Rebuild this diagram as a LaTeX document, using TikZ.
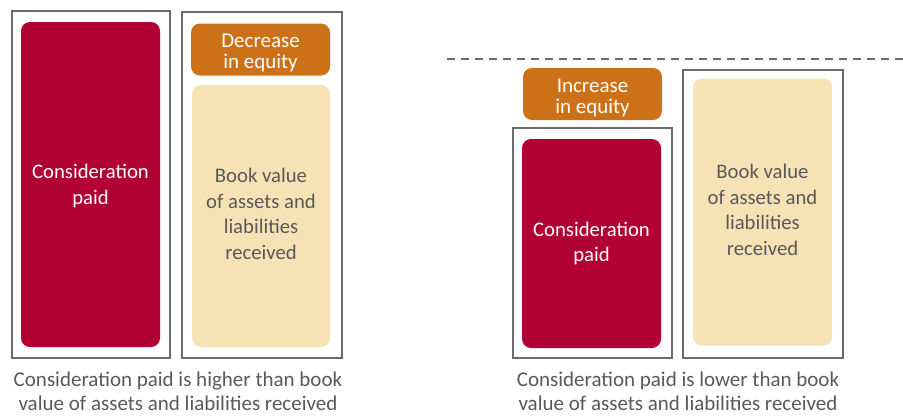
\documentclass[tikz,border=0pt]{standalone}
\usepackage{fontspec}
\setmainfont{Carlito}
\definecolor{cred}{HTML}{B10034}
\definecolor{corange}{HTML}{CD7118}
\definecolor{cyellow}{HTML}{F7E2B6}
\definecolor{ctext}{HTML}{595959}
\definecolor{cframe}{HTML}{6B6B6B}
\newcommand{\upstrut}{\rule[-4pt]{0pt}{1pt}}
\newcommand{\downstrut}{\rule{0pt}{21pt}}
\begin{document}
\begin{tikzpicture}[x=1pt,y=-1pt,
  frame/.style={draw=cframe,line width=1.8pt,inner sep=0pt,rectangle},
  blk/.style={rectangle,rounded corners=9pt,inner sep=0pt,align=center,font=\fontsize{20.7}{25.5}\selectfont},
  redblk/.style={blk,fill=cred,text=white},
  yelblk/.style={blk,fill=cyellow,text=ctext},
  orblk/.style={blk,fill=corange,text=white,font=\fontsize{21}{21}\selectfont},
  caption/.style={align=center,text=ctext,font=\fontsize{21}{23.5}\selectfont}]
\useasboundingbox (0,0) rectangle (903,416);
% left panel
\node[frame,minimum width=158pt,minimum height=347pt] (f1) at (91,184.5) {};
\node[redblk,minimum width=139pt,minimum height=325pt] (r1) at (90.5,184.5) {\rule{0pt}{17pt}Consideration\\paid};
\node[frame,minimum width=160pt,minimum height=346pt] (f2) at (262,185) {};
\node[orblk,minimum width=139pt,minimum height=52pt] (o1) at (260.5,49.5) {\downstrut Decrease\\in equity};
\node[yelblk,minimum width=138pt,minimum height=262pt] (y1) at (261,216) {Book value\\of assets and\\liabilities\\received\upstrut};
\node[caption] (c1) at (178,391.5) {Consideration paid is higher than book\\value of assets and liabilities received};
% right panel
\coordinate (d1) at (447,59);
\coordinate (d2) at (903,59);
\draw[cframe,line width=1.3pt,dash pattern=on 8pt off 6pt] (d1) -- (d2);
\node[orblk,minimum width=139pt,minimum height=52pt] (o2) at (592.5,94) {\downstrut Increase\\in equity};
\node[frame,minimum width=159pt,minimum height=230pt] (f3) at (592.5,243) {};
\node[redblk,minimum width=139pt,minimum height=209pt] (r2) at (591.5,243.5) {Consideration\\paid};
\node[frame,minimum width=160pt,minimum height=288pt] (f4) at (763,214) {};
\node[yelblk,minimum width=139pt,minimum height=267pt] (y2) at (762.5,212) {Book value\\of assets and\\liabilities\\received\upstrut};
\node[caption] (c2) at (678,391.5) {Consideration paid is lower than book\\value of assets and liabilities received};
\end{tikzpicture}
\end{document}
